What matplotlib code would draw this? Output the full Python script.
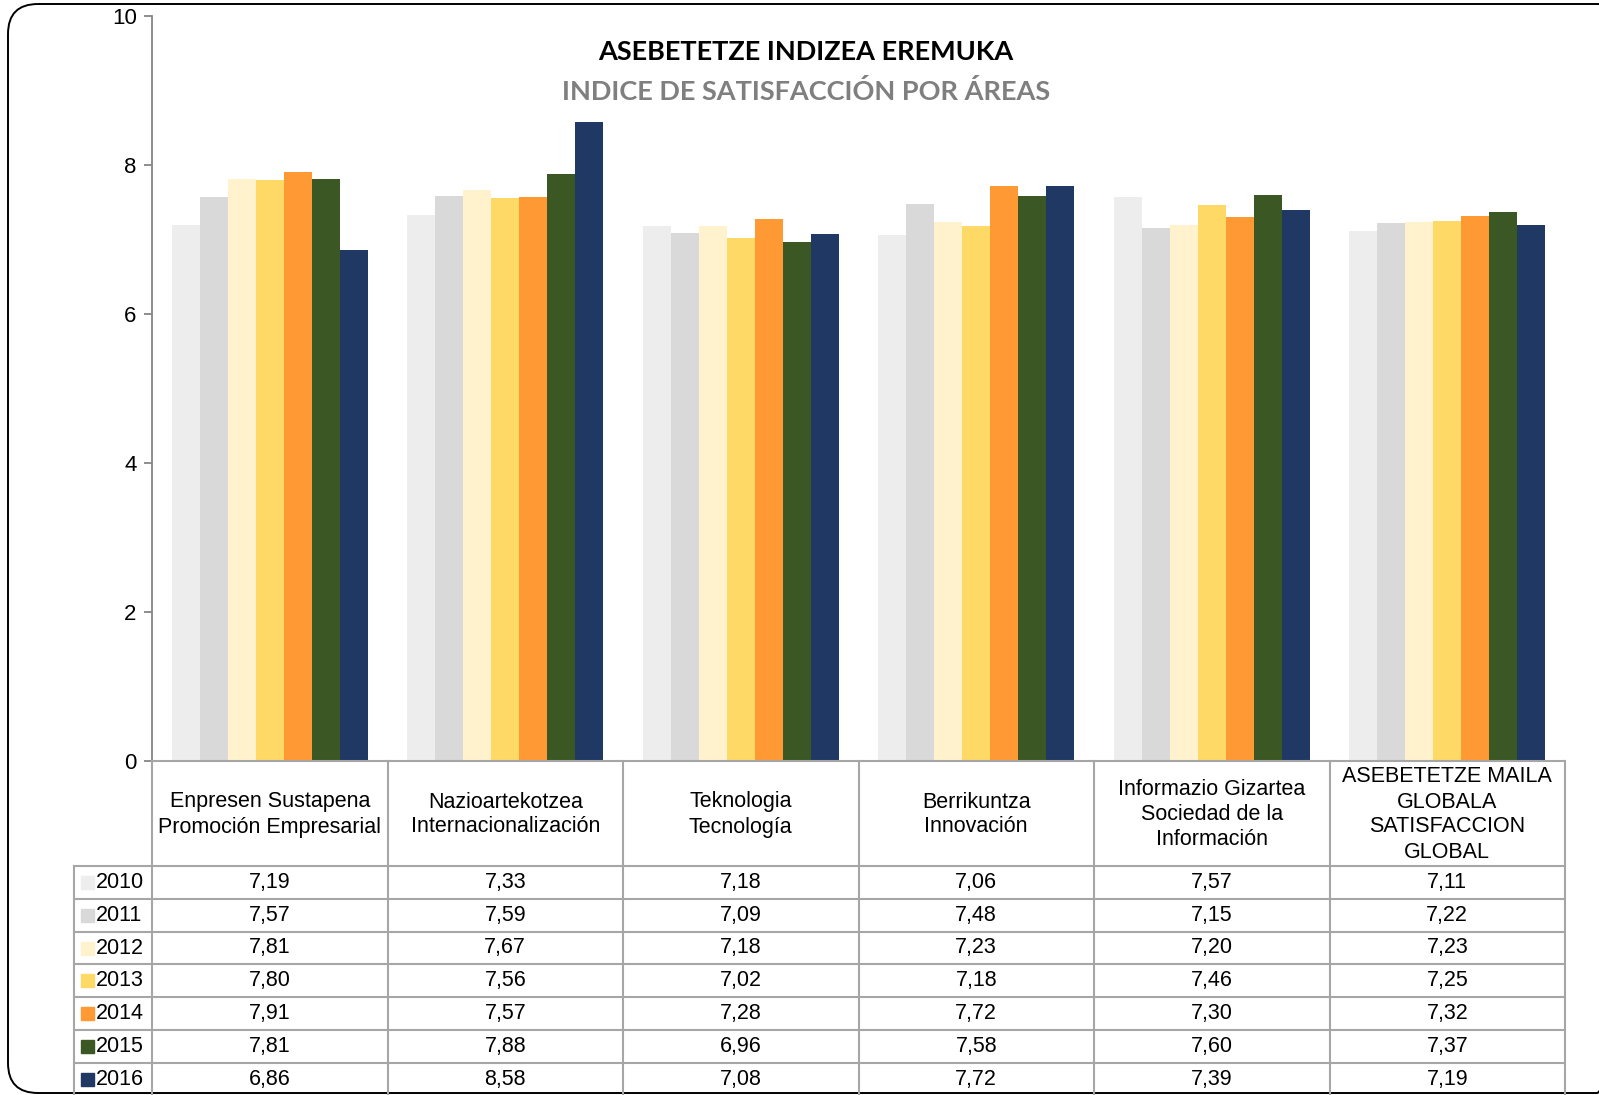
import numpy as np
import matplotlib.pyplot as plt
from matplotlib.patches import FancyBboxPatch, Rectangle

W, H = 1599, 1095

title = "ASEBETETZE INDIZEA EREMUKA"
subtitle = "INDICE DE SATISFACCIÓN POR ÁREAS"

areas = [
    "Enpresen Sustapena\nPromoción Empresarial",
    "Nazioartekotzea\nInternacionalización",
    "Teknologia\nTecnología",
    "Berrikuntza\nInnovación",
    "Informazio Gizartea\nSociedad de la\nInformación",
    "ASEBETETZE MAILA\nGLOBALA\nSATISFACCION\nGLOBAL",
]
years = ["2010", "2011", "2012", "2013", "2014", "2015", "2016"]
colors = ["#EDEDED", "#D9D9D9", "#FFF2CC", "#FFD966", "#FF9933", "#3A5724", "#1F3864"]

v2010 = [7.19, 7.33, 7.18, 7.06, 7.57, 7.11]
v2011 = [7.57, 7.59, 7.09, 7.48, 7.15, 7.22]
v2012 = [7.81, 7.67, 7.18, 7.23, 7.20, 7.23]
v2013 = [7.80, 7.56, 7.02, 7.18, 7.46, 7.25]
v2014 = [7.91, 7.57, 7.28, 7.72, 7.30, 7.32]
v2015 = [7.81, 7.88, 6.96, 7.58, 7.60, 7.37]
v2016 = [6.86, 8.58, 7.08, 7.72, 7.39, 7.19]
series = [v2010, v2011, v2012, v2013, v2014, v2015, v2016]

# layout in pixels
ax_l, ax_r = 152, 1565
ax_top, ax_bot = 16, 761
head_bot = 866
row_h = 32.8
leg_l = 74
grid_c = "#A6A6A6"
txt_font = "Liberation Sans"
fs = 15.5

fig = plt.figure(figsize=(W / 100, H / 100), dpi=100)
ax = fig.add_axes([ax_l / W, 1 - ax_bot / H, (ax_r - ax_l) / W, (ax_bot - ax_top) / H])

n = len(areas)
x = np.arange(n)
bw = 0.831 / len(years)
for j, (vals, c) in enumerate(zip(series, colors)):
    ax.bar(x + (j - 3) * bw, vals, width=bw, color=c, zorder=2)

ax.set_xlim(-0.5, n - 0.5)
ax.set_ylim(0, 10)
ax.set_yticks([0, 2, 4, 6, 8, 10])
ax.set_xticks([])
for s in ["top", "right", "bottom"]:
    ax.spines[s].set_visible(False)
ax.spines["left"].set_color("#868686")
ax.spines["left"].set_linewidth(1.3)
ax.tick_params(axis="y", direction="out", length=6, width=1.3, color="#868686",
               pad=5, labelsize=16)
for lab in ax.get_yticklabels():
    lab.set_fontfamily(txt_font)

# overlay in pixel coordinates for table, titles and frame
ov = fig.add_axes([0, 0, 1, 1])
ov.set_xlim(0, W)
ov.set_ylim(H, 0)
ov.axis("off")

frame = FancyBboxPatch((8, 4), W + 20, H - 6, boxstyle="round,pad=0,rounding_size=30",
                       fill=False, edgecolor="black", linewidth=1.4, clip_on=False)
ov.add_patch(frame)

ov.text(806, 52, title, fontsize=19.5, fontweight="bold", family="Lato",
        ha="center", va="center", color="black")
ov.text(806, 91, subtitle, fontsize=19.5, fontweight="bold", family="Lato",
        ha="center", va="center", color="#7F7F7F")

col_w = (ax_r - ax_l) / n
edges = [ax_l + i * col_w for i in range(n + 1)]
row_tops = [head_bot + k * row_h for k in range(len(years) + 1)]
lw = 1.5

# table grid
ov.plot([ax_l, ax_r], [ax_bot, ax_bot], color=grid_c, lw=lw)
for e in edges:
    ov.plot([e, e], [ax_bot, H + 5], color=grid_c, lw=lw, clip_on=False)
ov.plot([leg_l, leg_l], [head_bot, H + 5], color=grid_c, lw=lw, clip_on=False)
for yt in row_tops:
    ov.plot([leg_l, ax_r], [yt, yt], color=grid_c, lw=lw)

for i, a in enumerate(areas):
    ov.text((edges[i] + edges[i + 1]) / 2, (ax_bot + head_bot) / 2 + 1, a,
            ha="center", va="center", fontsize=fs, family=txt_font,
            linespacing=1.25, multialignment="center")

for k, (yr, vals, c) in enumerate(zip(years, series, colors)):
    yc = row_tops[k] + row_h / 2
    ov.add_patch(Rectangle((81, yc - 6.5), 13, 13, color=c))
    ov.text(96, yc, yr, ha="left", va="center", fontsize=fs, family=txt_font)
    for i, v in enumerate(vals):
        ov.text((edges[i] + edges[i + 1]) / 2, yc, f"{v:.2f}".replace(".", ","),
                ha="center", va="center", fontsize=fs, family=txt_font)

fig.savefig("out.png", dpi=100)
